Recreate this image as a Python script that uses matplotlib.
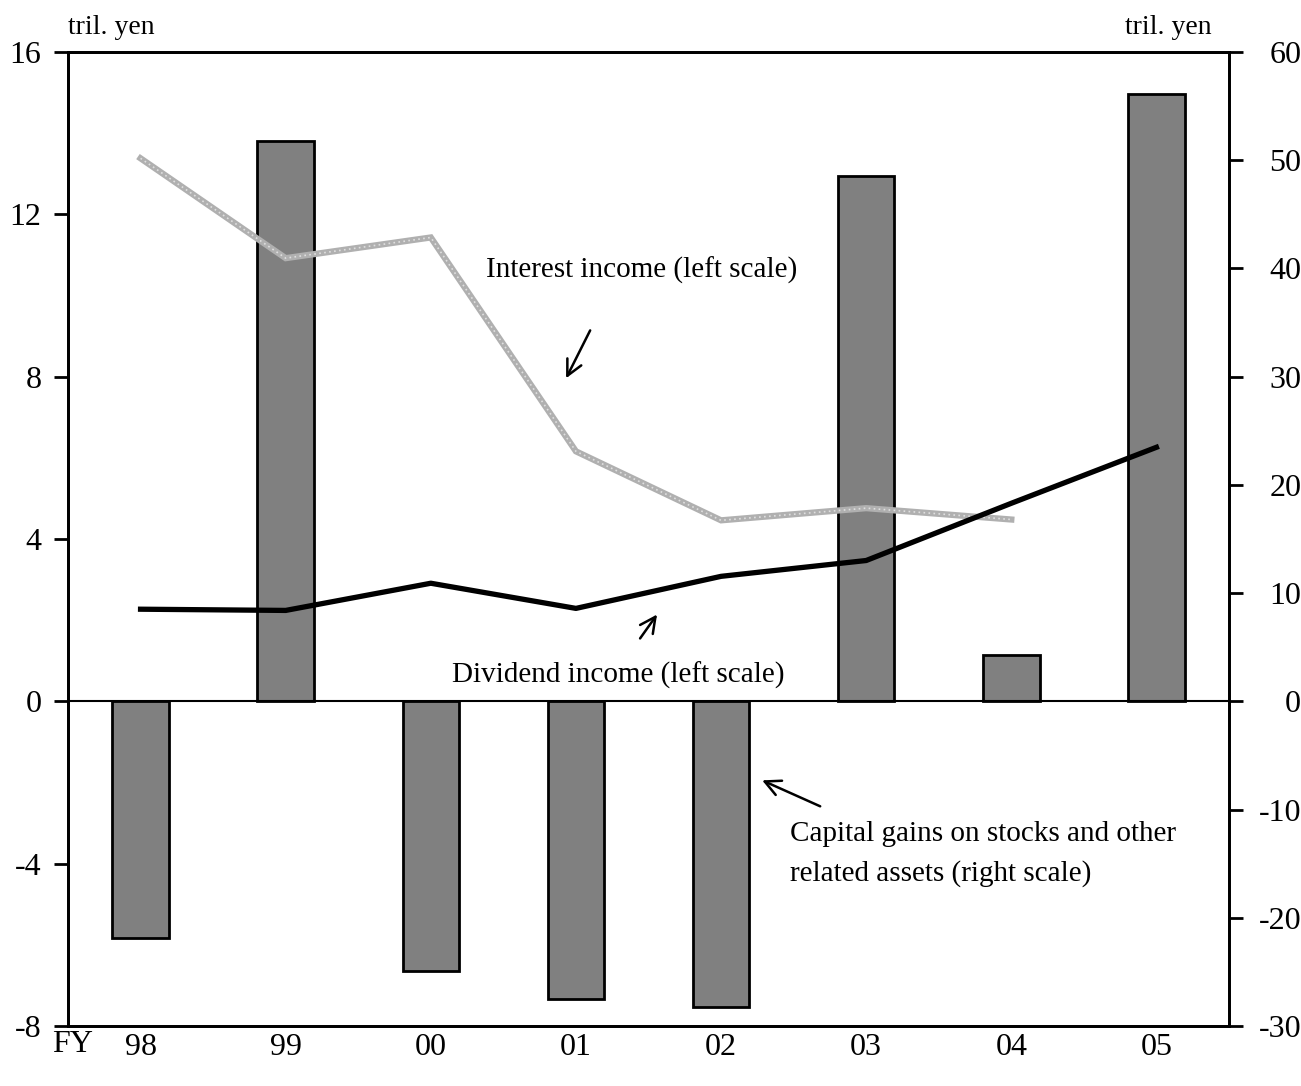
import numpy as np
import matplotlib
matplotlib.use("Agg")
import matplotlib.pyplot as plt

plt.rcParams['font.family'] = ['Liberation Serif', 'DejaVu Serif']
plt.rcParams['axes.unicode_minus'] = False

# fiscal years
years = ['98', '99', '00', '01', '02', '03', '04', '05']
# capital gains on stocks etc. (right scale, tril. yen)
capital_gains = [-21.9, 51.8, -24.9, -27.5, -28.2, 48.5, 4.3, 56.1]
# interest income (left scale, tril. yen), no value for FY05
interest_income = [13.38, 10.92, 11.43, 6.16, 4.46, 4.76, 4.48, np.nan]
# dividend income (left scale, tril. yen)
dividend_income = [2.27, 2.24, 2.91, 2.29, 3.08, 3.47, 4.88, 6.26]

x = np.arange(len(years))

fig = plt.figure(figsize=(13.01, 10.86), dpi=100)
ax = fig.add_axes([68 / 1301, 1 - 1026 / 1086, 1161 / 1301, 974 / 1086])
ax2 = ax.twinx()

# bars on the right scale
ax2.bar(x, capital_gains, width=0.39, color='#808080', edgecolor='black', linewidth=2)
ax2.set_ylim(-30, 60)
ax2.set_yticks(np.arange(-30, 61, 10))

# lines on the left scale, drawn above the bars
ax.set_zorder(ax2.get_zorder() + 1)
ax.patch.set_visible(False)
ax.plot(x, interest_income, color='#b0b0b0', lw=4.5, solid_joinstyle='miter')
ax.plot(x, interest_income, color='white', lw=1.2, ls=(0, (1, 2)), alpha=0.6)
ax.plot(x, dividend_income, color='black', lw=3.8)
ax.axhline(0, color='black', lw=1.5)
ax.set_ylim(-8, 16)
ax.set_yticks(np.arange(-8, 17, 4))
ax.set_xlim(-0.5, 7.5)
ax.set_xticks(x)
ax.set_xticklabels(years)

for a in (ax, ax2):
    for s in a.spines.values():
        s.set_linewidth(2)
ax.tick_params(axis='y', direction='out', length=10, width=2, labelsize=23, pad=9)
ax2.tick_params(axis='y', direction='out', length=10, width=2, labelsize=23, pad=42)
for lbl in ax2.get_yticklabels():
    lbl.set_horizontalalignment('right')
ax.tick_params(axis='x', length=0, labelsize=23, pad=5)

fig.text(52 / 1301, 1 - 1045 / 1086, 'FY', fontsize=23, va='center', ha='left')
fig.text(68 / 1301, 1 - 27 / 1086, 'tril. yen', fontsize=20, va='center', ha='left')
fig.text(1212 / 1301, 1 - 27 / 1086, 'tril. yen', fontsize=20, va='center', ha='right')

arrow = dict(arrowstyle='->', color='black', lw=1.8, mutation_scale=28,
             shrinkA=0, shrinkB=0)
# annotation texts
ax.text(3.45, 10.62, 'Interest income (left scale)', fontsize=21, ha='center', va='center')
ax.text(3.29, 0.64, 'Dividend income (left scale)', fontsize=21, ha='center', va='center')
ax2.text(4.476, -14.1, 'Capital gains on stocks and other\nrelated assets (right scale)',
         fontsize=21, ha='left', va='center', linespacing=1.65)
# arrows
ax.annotate('', xy=(2.932, 7.96), xytext=(3.098, 9.14), arrowprops=arrow)
ax.annotate('', xy=(3.559, 2.14), xytext=(3.442, 1.55), arrowprops=arrow)
ax2.annotate('', xy=(4.283, -7.3), xytext=(4.683, -9.7), arrowprops=arrow)

fig.savefig('out.png', dpi=100)
